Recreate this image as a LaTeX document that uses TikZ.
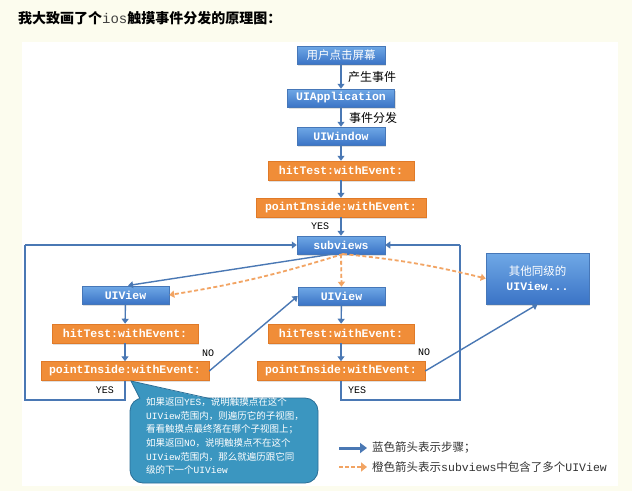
\documentclass[tikz,border=0pt]{standalone}
\usepackage{fontspec}
\setmainfont{Noto Sans CJK SC}
\setmonofont{Liberation Mono}
\usetikzlibrary{arrows.meta,shadows}
\definecolor{bgcream}{HTML}{FCFCEE}
\definecolor{blueTop}{HTML}{6FA8E6}
\definecolor{blueBot}{HTML}{3B74C6}
\definecolor{blueLine}{HTML}{4677B8}
\definecolor{orng}{HTML}{F08D38}
\definecolor{orngLine}{HTML}{E07A28}
\definecolor{arrBlue}{HTML}{4A78B4}
\definecolor{arrOrange}{HTML}{F2A463}
\definecolor{bubbleFill}{HTML}{3B96C0}
\definecolor{bubbleLine}{HTML}{2B6E96}
\definecolor{legendText}{HTML}{333333}
\tikzset{
  bluebox/.style={draw=blueLine, line width=0.5pt, top color=blueTop, bottom color=blueBot,
    text=white, inner sep=0pt, minimum height=18pt,
    font=\fontsize{11.5}{13}\selectfont\ttfamily\bfseries,
    drop shadow={opacity=0.25, shadow xshift=1pt, shadow yshift=-1.5pt}},
  orangebox/.style={draw=orngLine, line width=0.5pt, fill=orng,
    text=white, inner sep=0pt, minimum height=19pt,
    font=\fontsize{11.5}{13}\selectfont\ttfamily\bfseries,
    drop shadow={opacity=0.25, shadow xshift=1pt, shadow yshift=-1.5pt}},
  barrow/.style={draw=arrBlue, line width=1.4pt, -{Triangle[width=7pt,length=5pt]}},
  bline/.style={draw=arrBlue, line width=1.4pt},
  oarrow/.style={draw=arrOrange, line width=1.8pt, dash pattern=on 4pt off 2.5pt,
    -{Triangle[width=7pt,length=5pt]}},
  cjklbl/.style={font=\fontsize{12}{14}\selectfont, text=black, inner sep=0pt},
  yeslbl/.style={font=\fontsize{10}{12}\selectfont\ttfamily, text=black, inner sep=0pt},
  legtext/.style={font=\fontsize{11.5}{13}\selectfont, text=legendText, inner sep=0pt, anchor=west},
}
\begin{document}
\begin{tikzpicture}[x=1pt,y=-1pt]
\useasboundingbox (0,0) rectangle (632,491);
\fill[bgcream] (0,0) rectangle (632,491);
\fill[white] (22,42) rectangle (618,486);

% title
\node[anchor=west, inner sep=0pt, font=\fontsize{14}{16}\selectfont\bfseries] (title) at (18,18)
  {我大致画了个{\mdseries\color{black!75}\texttt{ios}}触摸事件分发的原理图：};

% main column
\node[bluebox, minimum width=88pt, font=\fontsize{11.5}{13}\selectfont] (tap) at (341,55) {用户点击屏幕};
\node[bluebox, minimum width=107pt] (app) at (341,98) {UIApplication};
\node[bluebox, minimum width=88pt] (win) at (341,136) {UIWindow};
\node[orangebox, minimum width=146pt] (ht) at (341,170.5) {hitTest:withEvent:};
\node[orangebox, minimum width=170pt] (pi) at (341,207.5) {pointInside:withEvent:};
\node[bluebox, minimum width=88pt] (sub) at (341,245) {subviews};

\node[bluebox, minimum width=103pt, minimum height=51pt, align=center,
  font=\fontsize{11.5}{15}\selectfont] (other) at (537.5,278.5)
  {其他同级的\\{\ttfamily\bfseries UIView...}};

% left column
\node[bluebox, minimum width=87pt] (luv) at (125.5,295) {UIView};
\node[orangebox, minimum width=146pt] (lht) at (125,333.5) {hitTest:withEvent:};
\node[orangebox, minimum width=168pt] (lpi) at (125,371) {pointInside:withEvent:};

% middle column
\node[bluebox, minimum width=87pt] (muv) at (341.5,296) {UIView};
\node[orangebox, minimum width=146pt] (mht) at (341,333.5) {hitTest:withEvent:};
\node[orangebox, minimum width=168pt] (mpi) at (341,371) {pointInside:withEvent:};

% main arrows
\draw[barrow] (tap) -- (app);
\draw[barrow] (app) -- (win);
\draw[barrow] (win) -- (ht);
\draw[barrow] (ht) -- (pi);
\draw[barrow] (pi) -- (sub);
\node[cjklbl, anchor=west] (l1) at (348,77) {产生事件};
\node[cjklbl, anchor=west] (l2) at (349,118) {事件分发};
\node[yeslbl] (yes0) at (320,226) {YES};

% column arrows
\draw[barrow] (luv) -- (lht);
\draw[barrow] (lht) -- (lpi);
\draw[barrow] (muv) -- (mht);
\draw[barrow] (mht) -- (mpi);

% loops
\coordinate (lb) at (125,400);
\coordinate (lc) at (25,400);
\coordinate (lt) at (25,245);
\draw[bline] (lpi.south) -- (lb) -- (lc) -- (lt);
\draw[barrow] (lt) -- (sub.west);
\coordinate (rb) at (341,400);
\coordinate (rc) at (460,400);
\coordinate (rt) at (460,245);
\draw[bline] (mpi.south) -- (rb) -- (rc) -- (rt);
\draw[barrow] (rt) -- (sub.east);
\node[yeslbl] (yesl) at (105,390) {YES};
\node[yeslbl] (yesr) at (357,390) {YES};

% subviews dispatch
\coordinate (s1) at (333,254);
\coordinate (s2) at (343,254);
\draw[barrow] (s1) -- (128,285.5);
\draw[oarrow] (s2) to[bend left=4] (luv.east);
\draw[oarrow] (sub.south) -- (muv.north);
\draw[oarrow] (s2) to[bend left=4] (other.west);

% NO arrows
\draw[barrow] (lpi.east) -- (muv.west);
\draw[barrow] (mpi.east) -- (other.south);
\node[yeslbl] (nol) at (208,353) {NO};
\node[yeslbl] (nor) at (424,352) {NO};

% callout bubble
\draw[draw=bubbleLine, fill=bubbleFill, line width=0.8pt, rounded corners=13pt]
  (130,398) rectangle (318,483);
\fill[bubbleFill] (131,381) -- (210,399.2) -- (140,399.2) -- cycle;
\draw[draw=bubbleLine, line width=0.8pt] (210,398.6) -- (131,381) -- (140,398.6);
\node[anchor=north west, align=left, text=white, inner sep=0pt,
  font=\fontsize{9.5}{13.6}\selectfont] (bubtext) at (146,397.5)
  {如果返回\texttt{YES}，说明触摸点在这个\\
   \texttt{UIView}范围内，则遍历它的子视图，\\
   看看触摸点最终落在哪个子视图上；\\
   如果返回\texttt{NO}，说明触摸点不在这个\\
   \texttt{UIView}范围内，那么就遍历跟它同\\
   级的下一个\texttt{UIView}};

% legend
\coordinate (la1) at (339,448);
\coordinate (la2) at (367,448);
\coordinate (lo1) at (339,467);
\coordinate (lo2) at (367,467);
\draw[draw=arrBlue, line width=3pt, -{Triangle[width=10pt,length=7pt]}] (la1) -- (la2);
\draw[draw=arrOrange, line width=2.2pt, dash pattern=on 4pt off 2pt,
  -{Triangle[width=9pt,length=6pt]}] (lo1) -- (lo2);
\node[legtext] (leg1) at (372,448) {蓝色箭头表示步骤；};
\node[legtext] (leg2) at (372,467) {橙色箭头表示\texttt{subviews}中包含了多个\texttt{UIView}};
\end{tikzpicture}
\end{document}
